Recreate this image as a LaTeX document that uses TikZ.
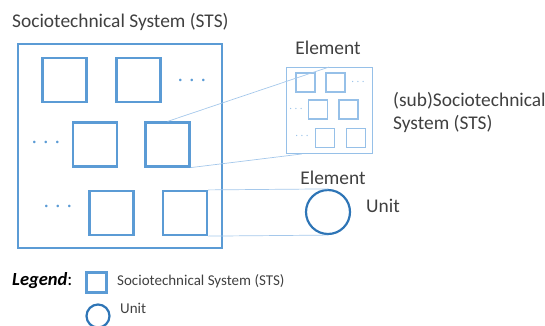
\documentclass[tikz,border=0pt]{standalone}
\usepackage{fontspec}
\setmainfont{Carlito}
\definecolor{stsblue}{RGB}{91,155,213}
\definecolor{unitblue}{RGB}{46,117,182}
\definecolor{subblue}{RGB}{150,192,232}
\definecolor{linkblue}{RGB}{165,200,235}
\definecolor{txt}{RGB}{64,64,64}
\begin{document}
\begin{tikzpicture}[x=1pt,y=-1pt,
  sts/.style={draw=stsblue,line width=2.2pt,minimum size=#1,inner sep=0pt},
  substs/.style={draw=subblue,line width=1.1pt,minimum size=#1,inner sep=0pt},
  unit/.style={circle,draw=unitblue,line width=2.2pt,minimum size=#1,inner sep=0pt},
  link/.style={draw=linkblue,line width=0.7pt},
  label/.style={text=txt,anchor=west,inner sep=0pt,font=\fontsize{19.4}{23}\selectfont},
  dots/.style={text=stsblue,inner sep=0pt,font=\fontsize{18}{18}\selectfont}]

\useasboundingbox (0,0) rectangle (545,325);

\node[label] (title) at (12,22) {Sociotechnical System (STS)};

\node[sts=204pt,line width=2.6pt] (main) at (120,146) {};% STS
\node[sts=44pt] (e1) at (64.5,80) {};
\node[sts=44pt] (e2) at (138.5,80) {};
\node[sts=44pt] (e3) at (95,144.5) {};% elements
\node[sts=44pt] (e4) at (167.5,144.5) {};
\node[sts=44pt] (e5) at (111.5,213) {};
\node[sts=44pt] (e6) at (185,213) {};
\node[dots] (d1) at (192,82) {·\hspace{7pt}·\hspace{7pt}·};
\node[dots] (d2) at (46,144) {·\hspace{7pt}·\hspace{7pt}·};
\node[dots] (d3) at (58,208) {·\hspace{7pt}·\hspace{7pt}·};

\node[substs=86pt,line width=0.9pt] (sub) at (329,110.5) {};% (sub)STS
\node[substs=19pt] (s1) at (305.5,82.5) {};
\node[substs=19pt] (s2) at (335.5,82.5) {};
\node[substs=19pt] (s3) at (318,109.5) {};
\node[substs=19pt] (s4) at (348.5,109.5) {};
\node[substs=19pt] (s5) at (325,138) {};
\node[substs=19pt] (s6) at (356,138) {};
\node[dots,text=subblue,font=\fontsize{9}{9}\selectfont] (sd1) at (358,83) {·\hspace{3pt}·\hspace{3pt}·};
\node[dots,text=subblue,font=\fontsize{9}{9}\selectfont] (sd2) at (296,110) {·\hspace{3pt}·\hspace{3pt}·};
\node[dots,text=subblue,font=\fontsize{9}{9}\selectfont] (sd3) at (302,137) {·\hspace{3pt}·\hspace{3pt}·};

\node[label,anchor=center] (el1) at (328,48) {Element};
\node[label,align=left,font=\fontsize{19.4}{23}\selectfont] (subtxt) at (393,112) {(sub)Sociotechnical\\System (STS)};

\node[unit=44pt] (u) at (328,212) {};% unit
\node[label,anchor=center] (el2) at (333,178) {Element};
\node[label] (utxt) at (366,206) {Unit};

\draw[link] (e4.north) -- (sub.north);% zoom lines
\draw[link] (e4.south east) -- (sub.-122);
\draw[link] (e6.north east) -- (u.north);
\draw[link] (e6.south east) -- (u.south);

% legend
\node[label,font=\fontsize{18.5}{20}\selectfont\bfseries\itshape,text=black] (leg) at (12,281) {Legend\textmd{\upshape:}};
\node[sts=20pt] (lsq) at (96.5,282.5) {};
\node[label,font=\fontsize{15}{17}\selectfont] (lsts) at (117,281) {Sociotechnical System (STS)};
\node[unit=23pt] (lu) at (98,316) {};
\node[label,font=\fontsize{15}{17}\selectfont] (lunit) at (120,308) {Unit};

\end{tikzpicture}
\end{document}
